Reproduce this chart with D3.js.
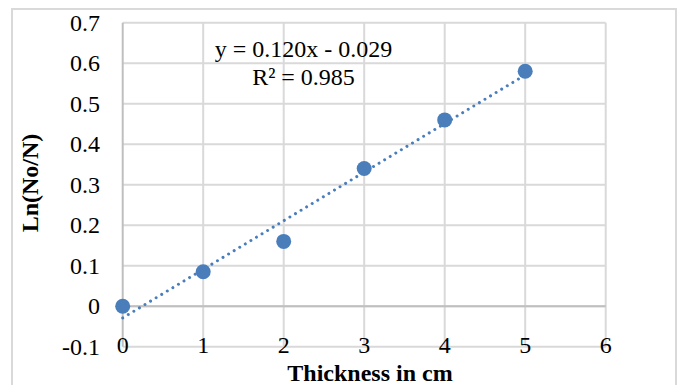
<!DOCTYPE html>
<html>
<head>
<meta charset="utf-8">
<script src="https://d3js.org/d3.v7.min.js"></script>
<style>
  body { margin: 0; background: #fff; }
  text { font-family: "Liberation Serif", "Times New Roman", serif; fill: #000; }
  .grid line { stroke: #d9d9d9; stroke-width: 2; }
  .axisline { stroke: #bfbfbf; stroke-width: 2; }
</style>
</head>
<body>
<div id="chart"></div>
<script>
  const thickness = [0, 1, 2, 3, 4, 5];
  const lnRatio = [0, 0.085, 0.16, 0.34, 0.46, 0.58];
  const xTicks = [0, 1, 2, 3, 4, 5, 6];
  const yTicks = [-0.1, 0, 0.1, 0.2, 0.3, 0.4, 0.5, 0.6, 0.7];
  const slope = 0.120, intercept = -0.029;
  const eqLabels = ["y = 0.120x - 0.029", "R² = 0.985"];

  const W = 680, H = 385;
  const svg = d3.select("#chart").append("svg")
    .attr("width", W).attr("height", H);

  // chart border
  svg.append("rect")
    .attr("x", 12).attr("y", 9)
    .attr("width", 664).attr("height", 400)
    .attr("fill", "#fff")
    .attr("stroke", "#d9d9d9").attr("stroke-width", 2);

  const x = d3.scaleLinear().domain([0, 6]).range([122.7, 605.7]);
  const y = d3.scaleLinear().domain([-0.1, 0.7]).range([346.7, 22.7]);

  // gridlines
  const grid = svg.append("g").attr("class", "grid");
  grid.selectAll(".h").data(yTicks).enter().append("line")
    .attr("x1", x(0)).attr("x2", x(6))
    .attr("y1", d => y(d)).attr("y2", d => y(d));
  grid.selectAll(".v").data(xTicks.slice(1)).enter().append("line")
    .attr("x1", d => x(d)).attr("x2", d => x(d))
    .attr("y1", y(-0.1)).attr("y2", y(0.7));

  // axis lines
  svg.append("line").attr("class", "axisline")
    .attr("x1", x(0)).attr("x2", x(6)).attr("y1", y(0)).attr("y2", y(0));
  svg.append("line").attr("class", "axisline")
    .attr("x1", x(0)).attr("x2", x(0)).attr("y1", y(-0.1)).attr("y2", y(0.7));

  // tick labels (plain hyphen for negatives, like Excel)
  svg.append("g").selectAll("text").data(yTicks).enter().append("text")
    .attr("x", 100).attr("y", d => y(d) + 8)
    .attr("text-anchor", "end")
    .style("font-size", "24px")
    .text(d => String(+d.toFixed(1)));
  svg.append("g").selectAll("text").data(xTicks).enter().append("text")
    .attr("x", d => x(d)).attr("y", 353)
    .attr("text-anchor", "middle")
    .style("font-size", "24px")
    .text(d => d);

  // trendline
  svg.append("line")
    .attr("x1", x(0)).attr("y1", y(slope * 0 + intercept))
    .attr("x2", x(5)).attr("y2", y(slope * 5 + intercept))
    .attr("stroke", "#4a7ebb").attr("stroke-width", 3)
    .attr("stroke-linecap", "round")
    .attr("stroke-dasharray", "0.01 6.5");

  // points
  svg.append("g").selectAll("circle").data(thickness).enter().append("circle")
    .attr("cx", d => x(d)).attr("cy", (d, i) => y(lnRatio[i]))
    .attr("r", 7.5).attr("fill", "#4a7ebb");

  // equation
  svg.append("g").selectAll("text").data(eqLabels).enter().append("text")
    .attr("x", 303.5).attr("y", (d, i) => 57 + i * 28)
    .attr("text-anchor", "middle")
    .style("font-size", "24px")
    .text(d => d);

  // axis titles
  svg.append("text")
    .attr("x", 370).attr("y", 381)
    .attr("text-anchor", "middle")
    .style("font-size", "24px").style("font-weight", "bold")
    .text("Thickness in cm");
  svg.append("text")
    .attr("transform", "translate(38,183) rotate(-90)")
    .attr("text-anchor", "middle")
    .style("font-size", "24px").style("font-weight", "bold")
    .text("Ln(No/N)");
</script>
</body>
</html>
